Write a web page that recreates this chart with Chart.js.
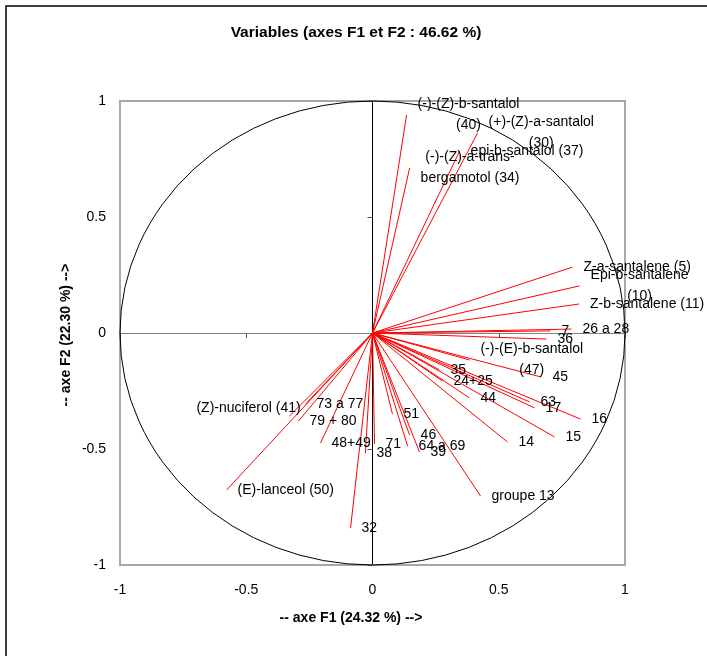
<!DOCTYPE html>
<html>
<head>
<meta charset="utf-8">
<script src="https://cdn.jsdelivr.net/npm/chart.js@4.4.0/dist/chart.umd.min.js"></script>
<style>
  body { margin: 0; background: #fff; }
  canvas { display: block; }
</style>
</head>
<body>
<canvas id="myChart" width="707" height="656"></canvas>
<script>
// variable names and their correlations with F1 / F2
var variableNames = [
    '(-)-(Z)-b-santalol (40)', '(+)-(Z)-a-santalol (30)', 'epi-b-santalol (37)',
    '(-)-(Z)-a-trans-bergamotol (34)', 'Z-a-santalene (5)', 'Epi-b-santalene (10)',
    'Z-b-santalene (11)', '7', '26 a 28', '36', '(-)-(E)-b-santalol (47)', '45',
    '35', '24+25', '44', '63', '17', '16', '15', '14', 'groupe 13', '51', '46',
    '64 a 69', '39', '71', '38', '32', '48+49', '79 + 80', '73 a 77',
    '(Z)-nuciferol (41)', '(E)-lanceol (50)'
];
var f1Values = [
    0.135, 0.416, 0.345, 0.147, 0.792, 0.820, 0.818, 0.705, 0.788, 0.689, 0.384, 0.669,
    0.265, 0.277, 0.384, 0.622, 0.642, 0.824, 0.721, 0.535, 0.428, 0.079, 0.147,
    0.139, 0.186, 0.008, -0.028, -0.087, -0.206, -0.293, -0.265,
    -0.329, -0.578
];
var f2Values = [
    0.940, 0.862, 0.784, 0.711, 0.284, 0.203, 0.125, 0.009, 0.017, -0.026, -0.116, -0.190,
    -0.159, -0.207, -0.280, -0.297, -0.323, -0.371, -0.448, -0.470, -0.703, -0.349, -0.440,
    -0.487, -0.513, -0.478, -0.517, -0.841, -0.474, -0.379, -0.306,
    -0.358, -0.677
];
var tickValues = [-1, -0.5, 0, 0.5, 1];
var tickLabels = ['-1', '-0.5', '0', '0.5', '1'];

// how some labels are broken on two lines
var labelLines = {
    '(-)-(Z)-b-santalol (40)': ['(-)-(Z)-b-santalol', '(40)'],
    '(+)-(Z)-a-santalol (30)': ['(+)-(Z)-a-santalol', '(30)'],
    '(-)-(Z)-a-trans-bergamotol (34)': ['(-)-(Z)-a-trans-', 'bergamotol (34)'],
    'Epi-b-santalene (10)': ['Epi-b-santalene', '(10)'],
    '(-)-(E)-b-santalol (47)': ['(-)-(E)-b-santalol', '(47)']
};
// label moved by hand (pixels from the point)
var labelMoved = {
    '(Z)-nuciferol (41)': [-93, -8]
};

var FONT = "'Liberation Sans', Arial, sans-serif";

var datasets = [];
for (var i = 0; i < variableNames.length; i++) {
    datasets.push({
        label: variableNames[i],
        data: [{x: 0, y: 0}, {x: f1Values[i], y: f2Values[i]}],
        showLine: true,
        borderColor: '#ff0000',
        borderWidth: 1,
        pointRadius: 0,
        fill: false
    });
}

function tickText(value) {
    var k = tickValues.indexOf(value);
    return k >= 0 ? tickLabels[k] : '';
}

var circlePlugin = {
    id: 'circle',
    beforeDatasetsDraw: function(chart) {
        var ctx = chart.ctx, xs = chart.scales.x, ys = chart.scales.y, a = chart.chartArea;
        var cx = xs.getPixelForValue(0), cy = ys.getPixelForValue(0);
        ctx.save();
        // plot frame
        ctx.strokeStyle = '#a8a8a8';
        ctx.lineWidth = 2;
        ctx.strokeRect(a.left, a.top, a.right - a.left, a.bottom - a.top);
        // small tick marks on the zero lines
        ctx.strokeStyle = '#555';
        ctx.lineWidth = 1;
        tickValues.forEach(function(v) {
            if (v === 0) return;
            var px = Math.round(xs.getPixelForValue(v)) + 0.5;
            var py = Math.round(ys.getPixelForValue(v)) + 0.5;
            ctx.beginPath(); ctx.moveTo(px, cy); ctx.lineTo(px, cy + 5); ctx.stroke();
            ctx.beginPath(); ctx.moveTo(cx - 5, py); ctx.lineTo(cx, py); ctx.stroke();
        });
        // correlation circle
        ctx.strokeStyle = '#000';
        ctx.lineWidth = 1;
        ctx.beginPath();
        ctx.ellipse(cx, cy, xs.getPixelForValue(1) - cx, cy - ys.getPixelForValue(1), 0, 0, 2 * Math.PI);
        ctx.stroke();
        ctx.restore();
    },
    afterDatasetsDraw: function(chart) {
        var ctx = chart.ctx, xs = chart.scales.x, ys = chart.scales.y;
        ctx.save();
        ctx.fillStyle = '#000';
        ctx.font = '14px ' + FONT;
        ctx.textBaseline = 'middle';
        for (var i = 0; i < variableNames.length; i++) {
            var name = variableNames[i];
            var px = xs.getPixelForValue(f1Values[i]);
            var py = ys.getPixelForValue(f2Values[i]);
            var lines = labelLines[name] || [name];
            var w = 0;
            lines.forEach(function(l) { w = Math.max(w, ctx.measureText(l).width); });
            var left = px + 11, top = py - (lines.length - 1) * 10.5;
            if (labelMoved[name]) {
                left = px + labelMoved[name][0];
                top = py + labelMoved[name][1];
            }
            ctx.textAlign = 'center';
            lines.forEach(function(l, k) {
                ctx.fillText(l, left + w / 2, top + k * 21);
            });
        }
        ctx.restore();
    },
    afterDraw: function(chart) {
        var ctx = chart.ctx;
        ctx.save();
        ctx.fillStyle = '#000';
        ctx.textAlign = 'center';
        ctx.textBaseline = 'middle';
        ctx.font = 'bold 15.5px ' + FONT;
        ctx.fillText('Variables (axes F1 et F2 : 46.62 %)', 356, 33);
        ctx.font = 'bold 14px ' + FONT;
        ctx.fillText('-- axe F1 (24.32 %) -->', 351, 618);
        ctx.translate(66, 335);
        ctx.rotate(-Math.PI / 2);
        ctx.fillText('-- axe F2 (22.30 %) -->', 0, 0);
        ctx.restore();
        // outer border (left and top edges)
        ctx.save();
        ctx.strokeStyle = '#000';
        ctx.lineWidth = 1.5;
        ctx.beginPath();
        ctx.moveTo(6, 656); ctx.lineTo(6, 6); ctx.lineTo(707, 6);
        ctx.stroke();
        ctx.restore();
    }
};

var ctx = document.getElementById('myChart').getContext('2d');
var chart = new Chart(ctx, {
    type: 'scatter',
    data: { datasets: datasets },
    options: {
        responsive: false,
        animation: false,
        layout: { padding: { left: 0, right: 82, top: 101, bottom: 0 } },
        plugins: { legend: { display: false }, tooltip: { enabled: false } },
        scales: {
            x: {
                type: 'linear', min: -1, max: 1,
                afterBuildTicks: function(s) { s.ticks = tickValues.map(function(v) { return {value: v}; }); },
                afterFit: function(s) { s.height = 91; },
                ticks: { color: '#000', font: { family: FONT, size: 14 }, padding: 17, maxRotation: 0, callback: tickText },
                grid: {
                    drawTicks: false,
                    color: function(c) { return c.tick && c.tick.value === 0 ? '#000' : 'rgba(0,0,0,0)'; }
                },
                border: { display: false }
            },
            y: {
                type: 'linear', min: -1, max: 1,
                afterBuildTicks: function(s) { s.ticks = tickValues.map(function(v) { return {value: v}; }); },
                afterFit: function(s) { s.width = 120; },
                ticks: { color: '#000', font: { family: FONT, size: 14 }, padding: 14, callback: tickText },
                grid: {
                    drawTicks: false,
                    color: function(c) { return c.tick && c.tick.value === 0 ? '#808080' : 'rgba(0,0,0,0)'; }
                },
                border: { display: false }
            }
        }
    },
    plugins: [circlePlugin]
});
</script>
</body>
</html>
